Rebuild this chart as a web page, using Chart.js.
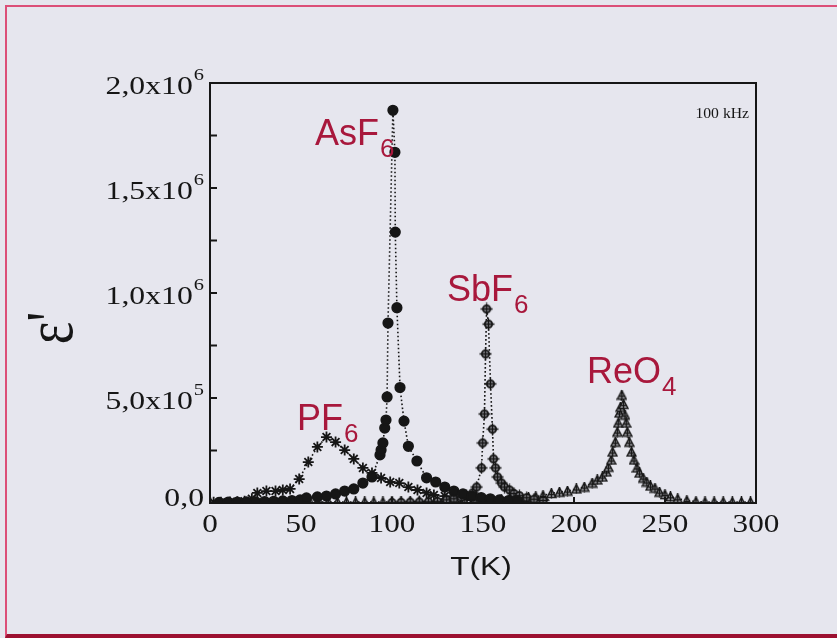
<!DOCTYPE html>
<html>
<head>
<meta charset="utf-8">
<title>Dielectric constant vs temperature</title>
<script src="https://cdn.jsdelivr.net/npm/chart.js@4.4.0/dist/chart.umd.min.js"></script>
<style>
  html, body { margin: 0; padding: 0; background: #e6e6ee; }
  #frame { position: relative; width: 837px; height: 638px; overflow: hidden; }
  #edge {
    position: absolute; left: 5px; top: 5px; right: -2px; bottom: 0;
    border-left: 2px solid #dc4f78; border-top: 2px solid #dc4f78; border-bottom: 4px solid #9c1030;
  }
  canvas { position: absolute; left: 0; top: 0; }
</style>
</head>
<body>
<div id="frame">
  <div id="edge"></div>
  <canvas id="plot" width="837" height="638"></canvas>
</div>
<script>
// eps' at 100 kHz for the four salts, T in K
const asf6T = [5, 10, 15, 20, 25, 30, 35, 40, 45, 49.5, 53, 59, 64, 69, 74, 79, 84, 89,
  93.4, 94, 95, 96, 96.7, 97.3, 97.8, 100.5, 101.6, 101.8, 102.7, 104.4, 106.6, 109,
  113.7, 119, 124, 129, 134, 139, 144, 149, 154, 159, 164, 169];
const asf6E = [3e3, 4e3, 4e3, 5e3, 6e3, 7e3, 8e3, 10e3, 12e3, 15e3, 24e3, 29e3, 33e3, 43e3, 57e3, 67e3, 95e3, 124e3,
  229e3, 252e3, 286e3, 357e3, 395e3, 505e3, 857e3, 1.87e6, 1.67e6, 1.29e6, 0.93e6, 0.55e6, 0.39e6, 0.27e6,
  0.20e6, 0.12e6, 0.10e6, 76e3, 57e3, 43e3, 33e3, 26e3, 20e3, 15e3, 12e3, 10e3];

const pf6T = [2, 6, 11, 15, 19, 23, 26, 31, 36, 40, 44, 49, 54, 59, 64, 69, 74, 79, 84, 89,
  94, 99, 104, 109, 114, 119, 123, 129, 134, 139, 144, 149];
const pf6E = [4e3, 4e3, 5e3, 6e3, 8e3, 20e3, 48e3, 57e3, 57e3, 62e3, 67e3, 114e3, 195e3, 267e3, 314e3, 290e3,
  252e3, 210e3, 167e3, 143e3, 119e3, 100e3, 95e3, 76e3, 62e3, 48e3, 38e3, 33e3, 24e3, 19e3, 14e3, 10e3];

const sbf6T = [100, 105, 110, 115, 120, 125, 130, 134, 138, 141, 144.3, 146.5, 149.2, 149.8, 150.8, 151.4, 152,
  153, 154.1, 155.2, 155.8, 156.9, 158, 160.2, 161.8, 164.6, 167, 170, 174, 178, 183];
const sbf6E = [2e3, 3e3, 4e3, 5e3, 6e3, 8e3, 15e3, 20e3, 28e3, 36e3, 48e3, 76e3, 167e3, 286e3, 424e3, 710e3, 924e3,
  852e3, 567e3, 352e3, 210e3, 167e3, 124e3, 95e3, 76e3, 62e3, 45e3, 35e3, 25e3, 18e3, 12e3];

const reo4T = [0, 5, 10, 15, 20, 25, 30, 35, 40, 45, 50, 55, 60, 65, 70, 75, 80, 85, 90, 95, 100, 105, 110, 115,
  120, 125, 130, 135, 140, 145, 150, 155, 160, 165, 170, 175, 179, 183, 187.6, 192, 196.4, 201.3, 205.7, 210,
  212.8, 215.6, 217.8, 218.9, 220.5, 221.2, 222.7, 223.8, 224.3, 225, 225.6, 226.3, 227.2, 228, 228.7, 229.3,
  230.4, 231.6, 233, 234.6, 236, 238, 240, 242, 244.5, 247, 250, 253, 257, 262, 267, 272, 277, 282, 287, 292, 297];
const reo4E = [3e3, 3e3, 3e3, 4e3, 4e3, 4e3, 4e3, 4e3, 4e3, 5e3, 5e3, 5e3, 5e3, 5e3, 5e3, 5e3, 5e3, 5e3, 5e3, 5e3,
  5e3, 5e3, 6e3, 6e3, 6e3, 6e3, 6e3, 7e3, 7e3, 8e3, 12e3, 15e3, 18e3, 21e3, 24e3, 27e3, 30e3, 36e3, 46e3, 52e3,
  57e3, 67e3, 76e3, 95e3, 110e3, 124e3, 148e3, 171e3, 205e3, 243e3, 290e3, 338e3, 381e3, 429e3, 457e3, 514e3,
  470e3, 419e3, 381e3, 338e3, 290e3, 243e3, 205e3, 167e3, 143e3, 119e3, 100e3, 81e3, 71e3, 52e3, 40e3, 30e3,
  20e3, 12e3, 7e3, 5e3, 5e3, 5e3, 5e3, 5e3, 5e3];

// axis ticks
const xTicks = [0, 50, 100, 150, 200, 250, 300];
const yTicks = [0, 5e5, 1e6, 1.5e6, 2e6];
const yTickText = ['0,0', '5,0x10', '1,0x10', '1,5x10', '2,0x10'];
const yTickExp = ['', '5', '6', '6', '6'];
const yMinor = [2.5e5, 5e5, 7.5e5, 1e6, 1.25e6, 1.5e6, 1.75e6];

// curve names placed next to each peak
const tagNames = ['AsF', 'SbF', 'ReO', 'PF'];
const tagSubs = ['6', '6', '4', '6'];
const tagT = [57.7, 130.2, 207.1, 47.8];
const tagE = [1.705e6, 0.962e6, 0.571e6, 0.348e6];

const ink = '#161616';
const red = '#a8183c';
const pts = (t, e) => t.map((v, i) => ({ x: v, y: e[i] }));

function marker(size, draw) {
  const c = document.createElement('canvas');
  c.width = size; c.height = size;
  const g = c.getContext('2d');
  g.strokeStyle = ink; g.fillStyle = ink; g.lineWidth = 1.4;
  draw(g, size / 2);
  return c;
}
const ringCross = marker(13, (g, m) => {
  g.beginPath(); g.arc(m, m, 3.7, 0, Math.PI * 2);
  g.fillStyle = '#8a8a90'; g.fill(); g.lineWidth = 1.8; g.stroke();
  g.lineWidth = 1.3;
  g.beginPath(); g.moveTo(m, 0.5); g.lineTo(m, 12.5); g.moveTo(0.5, m); g.lineTo(12.5, m); g.stroke();
});
const triCross = marker(11, (g, m) => {
  g.beginPath(); g.moveTo(m, 1); g.lineTo(10, 9.6); g.lineTo(1, 9.6); g.closePath();
  g.fillStyle = '#9a9aa0'; g.fill(); g.stroke();
  g.beginPath(); g.moveTo(m, 0); g.lineTo(m, 10.5); g.moveTo(3, 6.6); g.lineTo(8, 6.6); g.stroke();
});

const dotted = {
  showLine: true, borderColor: ink, borderWidth: 1.6, borderDash: [1.6, 2.4],
  pointBorderColor: ink, pointBackgroundColor: ink
};

function wideText(ctx, str, x, y, align, sx) {
  ctx.save();
  ctx.translate(x, y);
  ctx.scale(sx, 1);
  ctx.textAlign = align;
  ctx.fillText(str, 0, 0);
  ctx.restore();
}

const framePlugin = {
  id: 'frame',
  afterDatasetsDraw(chart) {
    const { ctx, scales: { x, y } } = chart;
    ctx.save();
    ctx.fillStyle = red;
    ctx.textBaseline = 'alphabetic';
    tagNames.forEach((name, i) => {
      const px = x.getPixelForValue(tagT[i]);
      const py = y.getPixelForValue(tagE[i]);
      ctx.font = '36px "Liberation Sans", Arial, sans-serif';
      ctx.textAlign = 'left';
      ctx.fillText(name, px, py);
      const w = ctx.measureText(name).width;
      ctx.font = '26px "Liberation Sans", Arial, sans-serif';
      ctx.fillText(tagSubs[i], px + w + 1, py + 12);
    });
    ctx.restore();
  },
  afterDraw(chart) {
    const { ctx, chartArea: a, scales: { x, y } } = chart;
    ctx.save();
    ctx.strokeStyle = ink;
    ctx.lineWidth = 2;
    ctx.strokeRect(a.left, a.top, a.right - a.left, a.bottom - a.top);
    ctx.beginPath();
    yMinor.forEach(v => {
      const p = y.getPixelForValue(v);
      ctx.moveTo(a.left, p); ctx.lineTo(a.left + 7, p);
    });
    xTicks.slice(1, -1).forEach(v => {
      const p = x.getPixelForValue(v);
      ctx.moveTo(p, a.bottom); ctx.lineTo(p, a.bottom - 6);
    });
    ctx.stroke();

    ctx.fillStyle = ink;
    ctx.textBaseline = 'middle';
    // y tick labels with raised exponent
    yTicks.forEach((v, i) => {
      const yc = y.getPixelForValue(v) + (v === 0 ? -4 : 4);
      ctx.font = '17px "Liberation Serif", "Times New Roman", serif';
      const ew = yTickExp[i] ? ctx.measureText(yTickExp[i]).width * 1.2 + 1 : 0;
      if (yTickExp[i]) wideText(ctx, yTickExp[i], 204, yc - 11.5, 'right', 1.2);
      ctx.font = '26px "Liberation Serif", "Times New Roman", serif';
      wideText(ctx, yTickText[i], 204 - ew, yc, 'right', 1.22);
    });
    // x tick labels
    ctx.font = '26px "Liberation Serif", "Times New Roman", serif';
    xTicks.forEach(v => wideText(ctx, String(v), x.getPixelForValue(v), 525, 'center', 1.2));

    // axis titles
    ctx.font = '26px "Liberation Sans", Arial, sans-serif';
    wideText(ctx, 'T(K)', (a.left + a.right) / 2 - 2, 568, 'center', 1.22);

    ctx.save();
    ctx.translate(72, 328);
    ctx.scale(1.25, 1);
    ctx.rotate(-Math.PI / 2);
    ctx.textAlign = 'center';
    ctx.textBaseline = 'alphabetic';
    ctx.font = '54px "Liberation Serif", "Times New Roman", serif';
    ctx.fillText("\u03b5'", 0, 0);
    ctx.restore();

    ctx.textBaseline = 'alphabetic';
    ctx.font = '14px "Liberation Serif", "Times New Roman", serif';
    wideText(ctx, '100 kHz', a.right - 7, 118, 'right', 1.12);
    ctx.restore();
  }
};

new Chart(document.getElementById('plot'), {
  type: 'scatter',
  data: {
    datasets: [
      { label: 'AsF6', data: pts(asf6T, asf6E), ...dotted, pointStyle: 'circle', pointRadius: 4.8 },
      { label: 'SbF6', data: pts(sbf6T, sbf6E), ...dotted, pointStyle: ringCross },
      { label: 'ReO4', data: pts(reo4T, reo4E), ...dotted, pointStyle: triCross },
      { label: 'PF6', data: pts(pf6T, pf6E), ...dotted, pointStyle: 'star', pointRadius: 5.5, pointBorderWidth: 1.8 }
    ]
  },
  options: {
    responsive: false,
    animation: false,
    layout: { padding: { left: 0, top: 83, right: 81, bottom: 0 } },
    plugins: { legend: { display: false }, tooltip: { enabled: false } },
    scales: {
      x: {
        type: 'linear', min: 0, max: 300,
        grid: { display: false }, border: { display: false }, ticks: { display: false },
        afterFit: s => { s.height = 135; }
      },
      y: {
        type: 'linear', min: 0, max: 2e6,
        grid: { display: false }, border: { display: false }, ticks: { display: false },
        afterFit: s => { s.width = 210; }
      }
    }
  },
  plugins: [framePlugin]
});
</script>
</body>
</html>
